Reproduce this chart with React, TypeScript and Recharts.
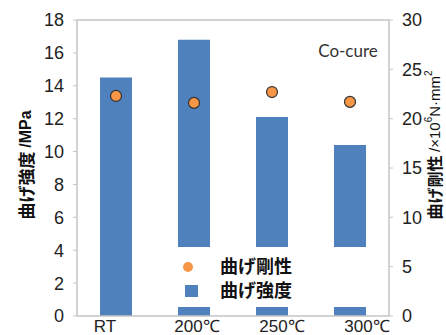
import {
  ComposedChart,
  Bar,
  Scatter,
  XAxis,
  YAxis,
  Legend,
  ReferenceLine,
} from "recharts";

const categories = ["RT", "200℃", "250℃", "300℃"];
const strength = [14.5, 16.8, 12.1, 10.4];
const rigidity = [22.3, 21.6, 22.7, 21.7];
const leftTicks = [0, 2, 4, 6, 8, 10, 12, 14, 16, 18];
const rightTicks = [0, 5, 10, 15, 20, 25, 30];

const BLUE = "#4f81bd";
const ORANGE = "#f79646";
const AXIS = "#c4c4c4";
const TICK_FONT = "'Liberation Sans', Arial, sans-serif";
const JP_FONT = "'Noto Sans CJK JP', sans-serif";

const data = categories.map((name, i) => ({
  name,
  strength: strength[i],
  rigidity: rigidity[i],
}));

// the category labels in the original are not centred under the bars
const labelShift = [-11, 3, 10, 17];

const XTick = ({ x, y, payload, index }: any) => (
  <text
    x={x + labelShift[index]}
    y={y}
    dy={14}
    textAnchor="middle"
    fontSize={17}
    fontFamily={TICK_FONT}
    fill="#222"
  >
    {payload.value}
  </text>
);

const Dot = ({ cx, cy }: any) => (
  <circle cx={cx} cy={cy} r={5.5} fill={ORANGE} stroke="#333" strokeWidth={1.2} />
);

const LegendBox = () => (
  <svg width={232} height={60}>
    <circle cx={48} cy={20} r={5} fill={ORANGE} />
    <text x={80} y={20} dy="0.36em" fontSize={18} fontWeight={700} fontFamily={JP_FONT} fill="#111">
      曲げ剛性
    </text>
    <rect x={45} y={38} width={13} height={12} fill={BLUE} />
    <text x={80} y={44} dy="0.36em" fontSize={18} fontWeight={700} fontFamily={JP_FONT} fill="#111">
      曲げ強度
    </text>
  </svg>
);

const LeftLabel = () => (
  <text
    x={25}
    y={165}
    transform="rotate(-90 25 165)"
    textAnchor="middle"
    dominantBaseline="central"
    fill="#111"
    fontWeight={700}
  >
    <tspan fontSize={17} fontFamily={JP_FONT}>曲げ強度 </tspan>
    <tspan fontSize={16} fontFamily={TICK_FONT}>/MPa</tspan>
  </text>
);

const RightLabel = () => (
  <text
    x={434}
    y={145}
    transform="rotate(-90 434 145)"
    textAnchor="middle"
    dominantBaseline="central"
    fill="#111"
  >
    <tspan fontSize={16} fontWeight={700} fontFamily={JP_FONT}>曲げ剛性 </tspan>
    <tspan fontSize={15} fontFamily={TICK_FONT}>/×10</tspan>
    <tspan fontSize={10} dy={-6} fontFamily={TICK_FONT}>6</tspan>
    <tspan fontSize={15} dy={6} fontFamily={TICK_FONT}>N·mm</tspan>
    <tspan fontSize={10} dy={-6} fontFamily={TICK_FONT}>2</tspan>
  </text>
);

export default function App() {
  return (
    <div style={{ position: "absolute", left: 0, top: 0, background: "#fff" }}>
      <ComposedChart
        width={446}
        height={335}
        data={data}
        margin={{ top: 20, right: 0, bottom: 0, left: 0 }}
      >
        <XAxis
          dataKey="name"
          height={19}
          tick={<XTick />}
          tickLine={false}
          tickSize={0}
          axisLine={{ stroke: AXIS, strokeWidth: 1.5 }}
        />
        <YAxis
          yAxisId="left"
          width={77}
          domain={[0, 18]}
          ticks={leftTicks}
          interval={0}
          tickSize={4}
          tickMargin={9}
          axisLine={{ stroke: AXIS, strokeWidth: 1.5 }}
          tickLine={{ stroke: AXIS }}
          tick={{ fontSize: 18, fontFamily: TICK_FONT, fill: "#222" }}
          label={<LeftLabel />}
        />
        <YAxis
          yAxisId="right"
          orientation="right"
          width={57}
          domain={[0, 30]}
          ticks={rightTicks}
          interval={0}
          tickSize={4}
          tickMargin={9}
          axisLine={{ stroke: AXIS, strokeWidth: 1.5 }}
          tickLine={{ stroke: AXIS }}
          tick={{ fontSize: 18, fontFamily: TICK_FONT, fill: "#222" }}
          label={<RightLabel />}
        />
        <ReferenceLine yAxisId="left" y={18} stroke={AXIS} strokeWidth={1.5} />
        <Bar
          yAxisId="left"
          dataKey="strength"
          fill={BLUE}
          barSize={32}
          isAnimationActive={false}
        />
        <Scatter
          yAxisId="right"
          dataKey="rigidity"
          shape={<Dot />}
          isAnimationActive={false}
        />
        <Legend
          layout="vertical"
          align="center"
          verticalAlign="middle"
          content={<LegendBox />}
          wrapperStyle={{
            left: 140,
            top: 247,
            width: 232,
            height: 60,
            background: "#fff",
          }}
        />
        <text
          x={348}
          y={50}
          textAnchor="middle"
          dominantBaseline="central"
          fontSize={17}
          fontFamily="Lato, sans-serif"
          fill="#333"
        >
          Co-cure
        </text>
      </ComposedChart>
    </div>
  );
}
